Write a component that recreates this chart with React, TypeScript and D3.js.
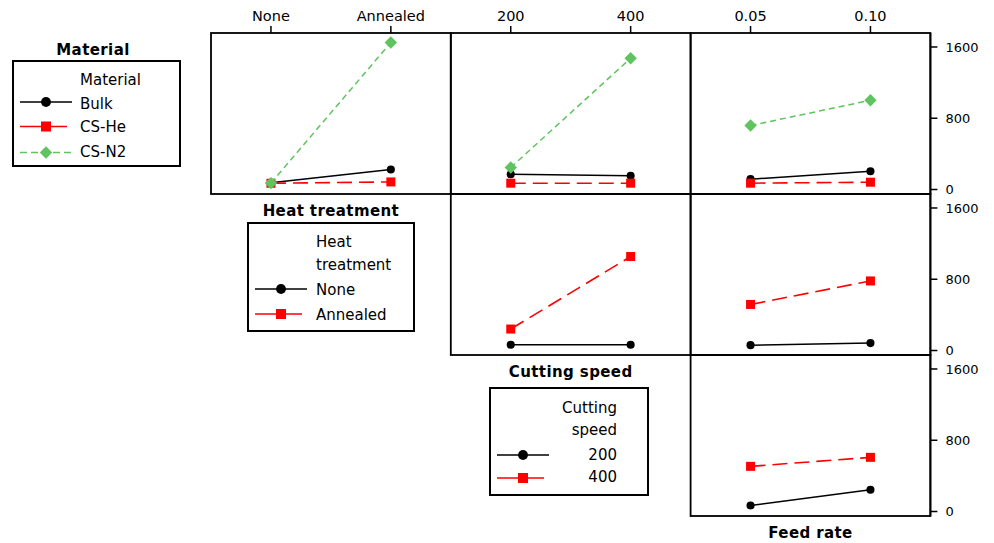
import React from "react";
import * as d3 from "d3";

// ---- data ----
const materials = ["Bulk", "CS-He", "CS-N2"];
const heatLevels = ["None", "Annealed"];
const speedLevels = ["200", "400"];
const feedLevels = ["0.05", "0.10"];
const yTicks = [0, 800, 1600];

// row 1: Material traces
const materialByHeat = [
  [75, 224],
  [70, 85],
  [72, 1650],
];
const materialBySpeed = [
  [172, 153],
  [71, 71],
  [247, 1474],
];
const materialByFeed = [
  [116, 205],
  [71, 82],
  [718, 1002],
];
// row 2: Heat treatment traces
const heatBySpeed = [
  [64, 64],
  [241, 1055],
];
const heatByFeed = [
  [60, 83],
  [517, 781],
];
// row 3: Cutting speed traces
const speedByFeed = [
  [68, 245],
  [507, 608],
];

const factorTitles = ["Heat treatment", "Cutting speed", "Feed rate"];

// ---- layout / style ----
const W = 994;
const H = 543;
const LEFT = 211;
const COLW = 239.8;
const TOP = 33;
const ROWH = 161;
const FONT = "'DejaVu Sans', Verdana, sans-serif";

const styles = [
  { color: "#000000", dash: null as string | null, width: 1.5, shape: "circle" },
  { color: "#ff0000", dash: "15,7", width: 1.6, shape: "square" },
  { color: "#5fc45f", dash: "6,4", width: 1.5, shape: "diamond" },
];

const columnLevels = [heatLevels, speedLevels, feedLevels];

const panels = [
  { row: 0, col: 0, series: materialByHeat },
  { row: 0, col: 1, series: materialBySpeed },
  { row: 0, col: 2, series: materialByFeed },
  { row: 1, col: 1, series: heatBySpeed },
  { row: 1, col: 2, series: heatByFeed },
  { row: 2, col: 2, series: speedByFeed },
];

function xScale(col: number) {
  return d3
    .scalePoint<string>()
    .domain(columnLevels[col])
    .range([LEFT + col * COLW, LEFT + (col + 1) * COLW])
    .padding(0.5);
}
function yScale(row: number) {
  const top = TOP + row * ROWH;
  return d3.scaleLinear().domain([-50.5, 1757]).range([top + ROWH, top]);
}

function Marker({ shape, x, y, color, size }: any) {
  if (shape === "circle") return <circle cx={x} cy={y} r={size * 0.45} fill={color} />;
  if (shape === "square")
    return <rect x={x - size / 2} y={y - size / 2} width={size} height={size} fill={color} />;
  const h = size * 0.62;
  return (
    <polygon
      points={`${x},${y - h} ${x + h},${y} ${x},${y + h} ${x - h},${y}`}
      fill={color}
    />
  );
}

function Legend({ box, title, items, lineY, textX, anchor, headerY, itemY, lineX }: any) {
  return (
    <g>
      <rect
        x={box[0]}
        y={box[1]}
        width={box[2] - box[0]}
        height={box[3] - box[1]}
        fill="white"
        stroke="black"
        strokeWidth={2}
      />
      {title.map((t: string, i: number) => (
        <text key={t} x={textX} y={headerY[i]} fontSize={15} fontFamily={FONT} textAnchor={anchor}>
          {t}
        </text>
      ))}
      {items.map((t: string, i: number) => {
        const s = styles[i];
        return (
          <g key={t}>
            <line
              x1={lineX[0]}
              x2={lineX[1] - (i === 1 ? 5 : 0)}
              y1={lineY[i]}
              y2={lineY[i]}
              stroke={s.color}
              strokeWidth={s.width}
              strokeDasharray={i === 2 ? "7,4" : undefined}
            />
            <Marker
              shape={s.shape}
              x={(lineX[0] + lineX[1]) / 2}
              y={lineY[i]}
              color={s.color}
              size={i === 0 ? 11 : 10}
            />
            <text x={textX} y={itemY[i]} fontSize={15} fontFamily={FONT} textAnchor={anchor}>
              {t}
            </text>
          </g>
        );
      })}
    </g>
  );
}

export default function App() {
  const line = d3
    .line<[number, number]>()
    .x((d) => d[0])
    .y((d) => d[1]);

  return (
    <svg
      width={W}
      height={H}
      style={{ position: "absolute", left: 0, top: 0, background: "white" }}
    >
      <rect width={W} height={H} fill="white" />
      {/* panels */}
      {panels.map((p, pi) => {
        const xs = xScale(p.col);
        const ys = yScale(p.row);
        const x0 = LEFT + p.col * COLW;
        const y0 = TOP + p.row * ROWH;
        return (
          <g key={pi}>
            <rect x={x0} y={y0} width={COLW} height={ROWH} fill="none" stroke="black" strokeWidth={1.8} />
            {p.series.map((vals, si) => {
              const s = styles[si];
              const pts: [number, number][] = vals.map((v, k) => [
                xs(columnLevels[p.col][k]) as number,
                ys(v),
              ]);
              return (
                <g key={si}>
                  <path
                    d={line(pts) || ""}
                    fill="none"
                    stroke={s.color}
                    strokeWidth={s.width}
                    strokeDasharray={s.dash || undefined}
                  />
                  {pts.map((pt, k) => (
                    <Marker
                      key={k}
                      shape={s.shape}
                      x={pt[0]}
                      y={pt[1]}
                      color={s.color}
                      size={si === 2 ? 10 : si === 1 ? 9 : 9}
                    />
                  ))}
                </g>
              );
            })}
          </g>
        );
      })}

      {/* top tick labels */}
      {columnLevels.map((levels, c) => {
        const xs = xScale(c);
        return levels.map((lv) => (
          <g key={c + lv}>
            <line x1={xs(lv)} x2={xs(lv)} y1={26} y2={TOP} stroke="black" strokeWidth={1.5} />
            <text
              x={xs(lv)}
              y={21}
              textAnchor="middle"
              fontSize={14.5}
              fontFamily={FONT}
            >
              {lv}
            </text>
          </g>
        ));
      })}

      {/* right axis */}
      <line
        x1={LEFT + 3 * COLW}
        x2={LEFT + 3 * COLW}
        y1={TOP}
        y2={TOP + 3 * ROWH}
        stroke="black"
        strokeWidth={1.8}
      />
      {[0, 1, 2].map((r) => {
        const ys = yScale(r);
        const ax = LEFT + 3 * COLW;
        return yTicks.map((t) => (
          <g key={r + "-" + t}>
            <line x1={ax} x2={ax + 7} y1={ys(t)} y2={ys(t)} stroke="black" strokeWidth={1.5} />
            <text
              x={ax + 15}
              y={ys(t)}
              dy="0.35em"
              fontSize={13}
              fontFamily={FONT}
            >
              {t}
            </text>
          </g>
        ));
      })}

      {/* factor titles under panels */}
      {factorTitles.map((t, c) => (
        <text
          key={t}
          x={LEFT + c * COLW + COLW / 2}
          y={TOP + (c + 1) * ROWH + 21.5}
          textAnchor="middle"
          fontSize={15}
          fontWeight="bold"
          letterSpacing={0.4}
          fontFamily={FONT}
        >
          {t}
        </text>
      ))}
      <text
        x={93}
        y={55}
        textAnchor="middle"
        fontSize={15}
        fontWeight="bold"
        letterSpacing={0.4}
        fontFamily={FONT}
      >
        Material
      </text>

      {/* legends */}
      <Legend
        box={[13, 61, 180, 166]}
        title={["Material"]}
        headerY={[85]}
        items={materials}
        itemY={[109, 132, 157]}
        lineY={[102, 126.5, 152.5]}
        lineX={[20, 72]}
        textX={80}
        anchor="start"
      />
      <Legend
        box={[248, 223, 414, 331]}
        title={["Heat", "treatment"]}
        headerY={[247, 270]}
        items={heatLevels}
        itemY={[295, 319.5]}
        lineY={[289, 314]}
        lineX={[255, 307]}
        textX={316}
        anchor="start"
      />
      <Legend
        box={[490, 388, 648, 495]}
        title={["Cutting", "speed"]}
        headerY={[413, 434.5]}
        items={speedLevels}
        itemY={[460, 482]}
        lineY={[455, 478]}
        lineX={[497, 549]}
        textX={617}
        anchor="end"
      />
    </svg>
  );
}
